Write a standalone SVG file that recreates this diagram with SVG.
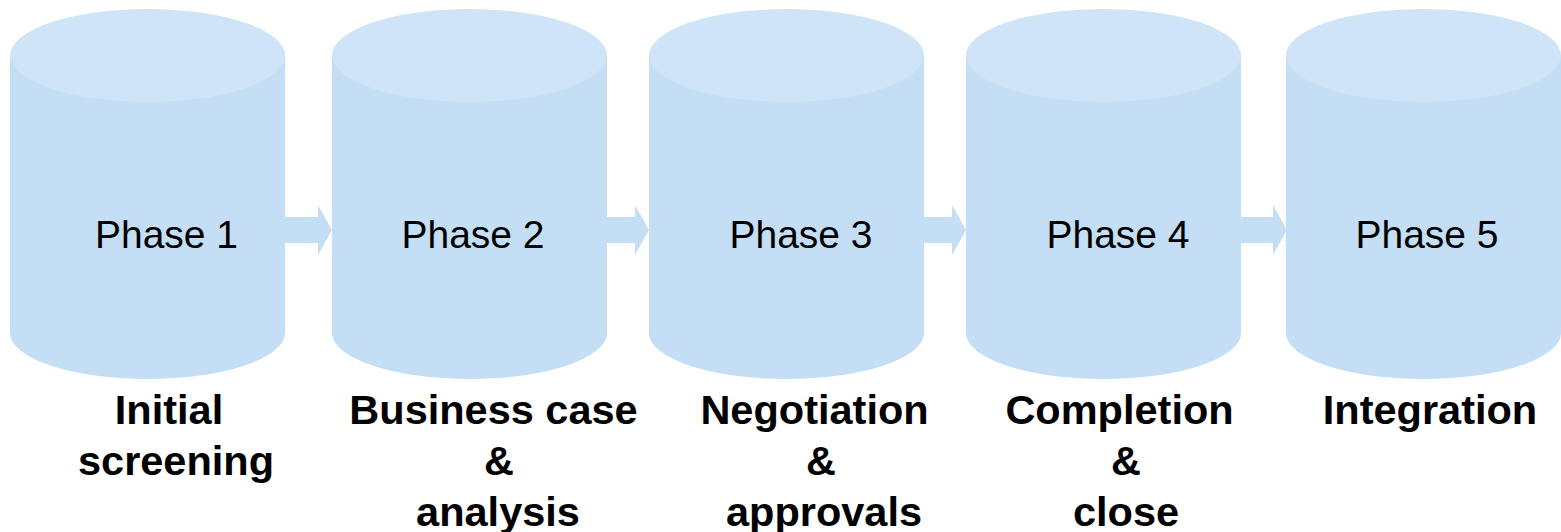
<svg xmlns="http://www.w3.org/2000/svg" width="1561" height="532" viewBox="0 0 1561 532">
<style>
.body{fill:#C3DEF5}
.top{fill:#CFE4F7}
.arr{fill:#C3DEF5}
.ph{font-family:"Liberation Sans",Arial,sans-serif;font-size:39px;fill:#000;text-anchor:middle}
.lb{font-family:"Liberation Sans",Arial,sans-serif;font-size:41.5px;font-weight:bold;fill:#000;text-anchor:middle}
</style>
<rect width="1561" height="532" fill="#fff"/>
<g id="connectors">
<polygon class="arr" points="284,217 318,217 318,205 332,230 318,255 318,243 284,243"/>
<polygon class="arr" points="606,217 635,217 635,205 649,230 635,255 635,243 606,243"/>
<polygon class="arr" points="923,217 952,217 952,205 966,230 952,255 952,243 923,243"/>
<polygon class="arr" points="1240,217 1273,217 1273,205 1287,230 1273,255 1273,243 1240,243"/>
</g>
<g id="phase1">
<path class="body" d="M10,55.5 L10,333 A137.5,46 0 0 0 285,333 L285,55.5 Z"/>
<ellipse class="top" cx="147.5" cy="55.5" rx="137.5" ry="46.5"/>
<text class="ph" x="166.5" y="248">Phase 1</text>
<text class="lb" x="169" y="424">Initial</text>
<text class="lb" x="176" y="475">screening</text>
</g>
<g id="phase2">
<path class="body" d="M332,55.5 L332,333 A137.5,46 0 0 0 607,333 L607,55.5 Z"/>
<ellipse class="top" cx="469.5" cy="55.5" rx="137.5" ry="46.5"/>
<text class="ph" x="473" y="248">Phase 2</text>
<text class="lb" x="493.5" y="424">Business case</text>
<text class="lb" x="499" y="475">&amp;</text>
<text class="lb" x="498" y="526">analysis</text>
</g>
<g id="phase3">
<path class="body" d="M649,55.5 L649,333 A137.5,46 0 0 0 924,333 L924,55.5 Z"/>
<ellipse class="top" cx="786.5" cy="55.5" rx="137.5" ry="46.5"/>
<text class="ph" x="801" y="248">Phase 3</text>
<text class="lb" x="814.5" y="424">Negotiation</text>
<text class="lb" x="821" y="475">&amp;</text>
<text class="lb" x="824" y="526">approvals</text>
</g>
<g id="phase4">
<path class="body" d="M966,55.5 L966,333 A137.5,46 0 0 0 1241,333 L1241,55.5 Z"/>
<ellipse class="top" cx="1103.5" cy="55.5" rx="137.5" ry="46.5"/>
<text class="ph" x="1118" y="248">Phase 4</text>
<text class="lb" x="1119.5" y="424">Completion</text>
<text class="lb" x="1126" y="475">&amp;</text>
<text class="lb" x="1126" y="526">close</text>
</g>
<g id="phase5">
<path class="body" d="M1286,55.5 L1286,333 A137.5,46 0 0 0 1561,333 L1561,55.5 Z"/>
<ellipse class="top" cx="1423.5" cy="55.5" rx="137.5" ry="46.5"/>
<text class="ph" x="1427" y="248">Phase 5</text>
<text class="lb" x="1430" y="424">Integration</text>
</g>
</svg>
